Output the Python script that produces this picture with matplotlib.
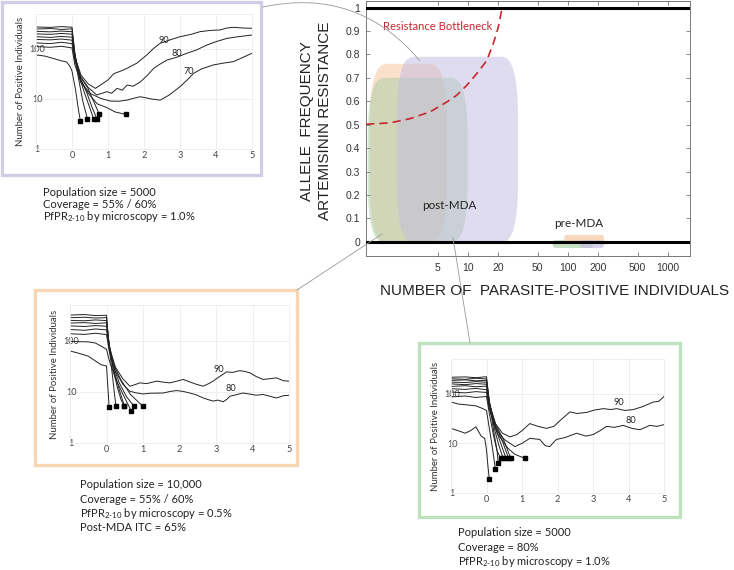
import matplotlib.pyplot as plt
from matplotlib.patches import FancyBboxPatch, Rectangle, ConnectionPatch
from matplotlib.ticker import NullLocator

plt.rcParams['font.family'] = ['Lato', 'DejaVu Sans']
plt.rcParams['mathtext.fontset'] = 'custom'
plt.rcParams['mathtext.rm'] = 'Lato'

W, H = 734, 570

# ---- main panel data ----
# envelopes: orange = pop 10,000, green = coverage 80%, purple = pop 5000
env_colors = ['#F8C39A', '#A6CEA4', '#C3BBE0']
post_xmin = [1.05, 1.0, 1.96]
post_xmax = [6.2, 10.0, 31.8]
post_ymax = [0.76, 0.70, 0.79]
pre_xmin = [92, 71, 133]
pre_xmax = [231, 179, 231]
pre_ylo = [-0.004, -0.026, -0.026]
pre_yhi = [0.03, 0.008, 0.008]

bneck_x = [0.96, 1.67, 2.65, 4.2, 6.17, 7.76, 9.77, 12.3, 15.5, 18.0, 20.2, 22.1]
bneck_y = [0.502, 0.508, 0.526, 0.555, 0.597, 0.626, 0.668, 0.718, 0.774, 0.846, 0.916, 1.0]

main_xticks = [5, 10, 20, 50, 100, 200, 500, 1000]
main_yticks = [0, 0.1, 0.2, 0.3, 0.4, 0.5, 0.6, 0.7, 0.8, 0.9, 1]
main_ylabels = ['0', '0.1', '0.2', '0.3', '0.4', '0.5', '0.6', '0.7', '0.8', '0.9', '1']

# ---- inset data: (x, y) per simulation line ----
purple_lines = [
    ([-1, -0.6, -0.3, 0, 0.07, 0.18, 0.3, 0.43], [275, 270, 280, 272, 85, 26, 9, 4.0]),
    ([-1, -0.6, -0.3, 0, 0.08, 0.2, 0.35, 0.5, 0.6], [250, 256, 246, 252, 82, 28, 13, 6.5, 4.0]),
    ([-1, -0.6, -0.3, 0, 0.08, 0.2, 0.4, 0.55, 0.69], [225, 220, 228, 222, 78, 28, 14, 7, 4.0]),
    ([-1, -0.6, -0.3, 0, 0.08, 0.22, 0.45, 0.6, 0.76], [200, 196, 204, 198, 72, 29, 16, 9, 4.9]),
    ([-1, -0.6, -0.3, 0, 0.08, 0.25, 0.45, 0.65, 0.79, 1.0, 1.16, 1.35, 1.53, 1.8, 2.08,
      2.25, 2.45, 2.7, 3.0, 3.3, 3.56, 3.85, 4.12, 4.3, 4.49, 4.75, 5.0],
     [176, 170, 178, 172, 70, 30, 20, 16.3, 19, 24, 32, 36, 41, 52, 76,
      100, 130, 150, 176, 195, 222, 235, 240, 262, 271, 262, 259]),
    ([-1, -0.6, -0.3, 0, 0.08, 0.25, 0.45, 0.69, 0.97, 1.1, 1.25, 1.4, 1.53, 1.7, 1.9,
      2.1, 2.27, 2.45, 2.64, 2.9, 3.19, 3.45, 3.75, 4.0, 4.31, 4.6, 5.0],
     [155, 152, 158, 150, 62, 27, 17, 12, 14, 13, 16.3, 15, 19, 18, 22,
      30, 41, 50, 60, 68, 82, 95, 120, 140, 163, 175, 190]),
    ([-1, -0.6, -0.3, 0, 0.08, 0.25, 0.45, 0.7, 0.95, 1.2, 1.5],
     [132, 128, 136, 128, 58, 24, 13, 8, 6.8, 5.5, 4.9]),
    ([-1, -0.6, -0.3, 0, 0.08, 0.25, 0.5, 0.79, 1.06, 1.3, 1.53, 1.75, 1.9, 2.2, 2.45,
      2.7, 3.0, 3.2, 3.38, 3.6, 3.93, 4.2, 4.49, 4.75, 5.0],
     [112, 108, 113, 105, 48, 21, 13, 10.3, 9.1, 9.0, 9.5, 10.5, 11.1, 10, 9.5,
      12, 17.6, 24, 32.6, 40, 48, 52, 56, 68, 82]),
    ([-1, -0.75, -0.5, -0.3, -0.15, -0.05, 0, 0.1, 0.18, 0.23],
     [76, 72, 64, 58, 55, 44, 36, 15, 6, 3.7]),
]
purple_tags = [('90', 2.55, 150), ('80', 2.92, 82), ('70', 3.24, 35)]

orange_lines = [
    ([-1, -0.6, -0.3, 0, 0.06, 0.15, 0.22, 0.26], [318, 325, 310, 315, 90, 25, 9, 5.2]),
    ([-1, -0.6, -0.3, 0, 0.07, 0.18, 0.3, 0.4, 0.49], [282, 288, 278, 283, 85, 28, 12, 7, 5.2]),
    ([-1, -0.6, -0.3, 0, 0.07, 0.2, 0.35, 0.55, 0.76], [250, 246, 255, 248, 82, 30, 15, 8, 5.2]),
    ([-1, -0.6, -0.3, 0, 0.08, 0.22, 0.4, 0.65, 1.0], [222, 226, 218, 224, 80, 31, 17, 9, 5.2]),
    ([-1, -0.6, -0.3, 0, 0.08, 0.2, 0.35, 0.45, 0.49], [195, 190, 198, 192, 75, 27, 11, 6.5, 5.2]),
    ([-1, -0.6, -0.3, 0, 0.08, 0.25, 0.45, 0.64, 0.8, 0.91, 1.1, 1.37, 1.55, 1.73, 1.9,
      2.1, 2.3, 2.47, 2.65, 2.8, 2.92, 3.1, 3.29, 3.45, 3.65, 3.8, 3.93, 4.1, 4.29, 4.45,
      4.66, 4.85, 5.0],
     [166, 160, 170, 163, 70, 30, 18, 12.9, 14, 15, 14.5, 16.2, 15.5, 15, 16,
      17.5, 15.5, 14, 12.9, 14.5, 16.2, 20, 24.6, 24, 26, 25, 23.5, 20, 17.5, 18,
      18.8, 16.5, 16.2]),
    ([-1, -0.6, -0.3, 0, 0.08, 0.25, 0.45, 0.64, 0.8, 1.0, 1.2, 1.55, 1.75, 1.92, 2.1,
      2.28, 2.45, 2.65, 2.8, 2.92, 3.05, 3.2, 3.3, 3.38, 3.55, 3.74, 3.95, 4.1, 4.29, 4.45,
      4.66, 4.85, 5.0],
     [137, 133, 140, 132, 60, 25, 14, 10.3, 9.6, 9.1, 9.4, 9.5, 10.2, 10.6, 10.2,
      9.5, 8.8, 7.6, 7.0, 6.6, 6.9, 6.4, 7.2, 8.2, 8.8, 9.5, 9.0, 8.6, 8.9, 8.3,
      7.6, 8.4, 8.6]),
    ([-1, -0.8, -0.5, -0.3, -0.1, 0, 0.08, 0.25, 0.45, 0.6, 0.68],
     [98, 96, 95, 90, 75, 68, 40, 18, 9, 5.5, 4.2]),
    ([-1, -0.8, -0.5, -0.3, -0.15, 0, 0.03, 0.06, 0.07],
     [63, 58, 50, 40, 34, 32, 15, 7, 5.0]),
]
orange_tags = [('90', 3.09, 27), ('80', 3.4, 11.6)]

green_lines = [
    ([-1, -0.8, -0.6, -0.45, -0.3, -0.15, -0.05, 0, 0.04, 0.08],
     [20, 18, 16, 18, 21.5, 14, 12.6, 7.4, 3.5, 1.9]),
    ([-1, -0.8, -0.6, -0.3, -0.1, 0, 0.08, 0.18, 0.25], [68, 62, 60, 57, 50, 46, 20, 7, 3.0]),
    ([-1, -0.6, -0.3, 0, 0.07, 0.2, 0.3, 0.33], [215, 218, 210, 220, 75, 18, 7, 4.0]),
    ([-1, -0.6, -0.3, 0, 0.08, 0.22, 0.35, 0.47], [200, 195, 205, 198, 70, 20, 9, 5]),
    ([-1, -0.6, -0.3, 0, 0.08, 0.24, 0.4, 0.55], [185, 190, 182, 186, 68, 22, 10, 5]),
    ([-1, -0.6, -0.3, 0, 0.08, 0.25, 0.45, 0.62], [171, 168, 175, 170, 66, 23, 11, 5]),
    ([-1, -0.6, -0.3, 0, 0.08, 0.26, 0.5, 0.68], [140, 145, 138, 142, 62, 24, 11, 5]),
    ([-1, -0.6, -0.3, 0, 0.08, 0.3, 0.6, 0.8, 1.08], [108, 104, 110, 106, 50, 16, 8, 6, 5]),
    ([-1, -0.6, -0.3, 0, 0.08, 0.25, 0.45, 0.66, 0.85, 1.0, 1.22, 1.45, 1.69, 1.9, 2.1,
      2.35, 2.55, 2.82, 3.05, 3.29, 3.5, 3.67, 3.9, 4.14, 4.4, 4.7, 4.85, 5.0],
     [158, 152, 160, 155, 60, 25, 16, 13.5, 15, 18, 25, 22, 20, 22, 30,
      43, 40, 42, 47, 50, 48, 50, 46, 48, 55, 68, 70, 88]),
    ([-1, -0.6, -0.3, 0, 0.08, 0.25, 0.5, 0.8, 1.0, 1.22, 1.5, 1.65, 1.78, 1.97, 2.2,
      2.54, 2.8, 3.0, 3.2, 3.38, 3.6, 3.85, 4.1, 4.32, 4.6, 4.8, 5.0],
     [126, 122, 128, 120, 50, 20, 12, 8.6, 10, 12.6, 12, 9, 8.6, 12, 13,
      16, 14, 15, 18, 22, 21, 23, 20, 18.8, 23, 22, 23.8]),
    ([-1, -0.6, -0.3, 0, 0.08, 0.2, 0.3, 0.4], [86, 90, 84, 88, 40, 14, 7, 5]),
]
green_tags = [('90', 3.72, 68), ('80', 4.07, 29)]

inset_xticks = [-1, 0, 1, 2, 3, 4, 5]
inset_xlabels = ['', '0', '1', '2', '3', '4', '5']
inset_yticks = [1, 10, 100]
inset_ylabels = ['1', '10', '100']

purple_text = ['Population size = 5000', 'Coverage = 55% / 60%',
               r'PfPR$_{2\text{-}10}$ by microscopy = 1.0%']
orange_text = ['Population size = 10,000', 'Coverage = 55% / 60%',
               r'PfPR$_{2\text{-}10}$ by microscopy = 0.5%', 'Post-MDA ITC = 65%']
green_text = ['Population size = 5000', 'Coverage = 80%',
              r'PfPR$_{2\text{-}10}$ by microscopy = 1.0%']


def fig_rect(l, t, r, b):
    return [l / W, 1 - b / H, (r - l) / W, (b - t) / H]


fig = plt.figure(figsize=(W / 100, H / 100), dpi=100)

# ---------------- main panel ----------------
ax = fig.add_axes(fig_rect(366, 0.5, 690, 256))
ax.set_xscale('log')
ax.set_xlim(0.96, 1670)
ax.set_ylim(-0.06, 1.03)
ax.set_xticks(main_xticks)
ax.set_xticklabels([str(v) for v in main_xticks])
ax.xaxis.set_minor_locator(NullLocator())
ax.set_yticks(main_yticks)
ax.set_yticklabels(main_ylabels)
ax.tick_params(direction='in', length=3, width=0.6, color='#777', labelsize=7.5,
               labelcolor='#333', top=True, right=True, pad=5)
ax.tick_params(axis='y', pad=4)
for lab in ax.get_xticklabels() + ax.get_yticklabels():
    lab.set_family('Liberation Sans')
for s in ax.spines.values():
    s.set_color('#777')
    s.set_linewidth(0.7)

ax_w = 324.0
ax_h = 255.5
to_axes = ax.transData + ax.transAxes.inverted()


def blob(x0, x1, y0, y1, rx, ry, color, alpha):
    (a0, b0), (a1, b1) = to_axes.transform([(x0, y0), (x1, y1)])
    rxf = rx / ax_w
    ryf = ry / ax_h
    p = FancyBboxPatch((a0, b0), a1 - a0, b1 - b0,
                       boxstyle='round,pad=0,rounding_size=%f' % rxf,
                       mutation_aspect=ryf / rxf, transform=ax.transAxes,
                       facecolor=color, edgecolor='none', alpha=alpha, zorder=1)
    ax.add_patch(p)


for i in range(3):
    blob(post_xmin[i], post_xmax[i], -0.003, post_ymax[i], 16, 60, env_colors[i], 0.5)
for i in [1, 0, 2]:
    blob(pre_xmin[i], pre_xmax[i], pre_ylo[i], pre_yhi[i], 3, 3, env_colors[i], 0.65)

ax.axhline(0, color='black', lw=2.2, zorder=3)
ax.axhline(1, color='black', lw=2.2, zorder=3)
ax.plot(bneck_x, bneck_y, color='#C8262E', lw=1.2, dashes=(5, 3), zorder=4)

ax.text(1.42, 0.92, 'Resistance Bottleneck', color='#C8262E', fontsize=8.1,
        ha='left', va='center')
ax.text(6.6, 0.155, 'post-MDA', color='#222', fontsize=8.4, ha='center', va='center')
ax.text(130, 0.08, 'pre-MDA', color='#222', fontsize=8.4, ha='center', va='center')

fig.text(307 / W, 1 - 121 / H, 'ALLELE  FREQUENCY', rotation=90, ha='center', va='center',
         fontsize=11, family='Liberation Sans', color='#222')
fig.text(325 / W, 1 - 121 / H, 'ARTEMISININ RESISTANCE', rotation=90, ha='center',
         va='center', fontsize=11, family='Liberation Sans', color='#222')
fig.text(555 / W, 1 - 291 / H, 'NUMBER OF  PARASITE-POSITIVE INDIVIDUALS', ha='center',
         va='center', fontsize=11, family='Liberation Sans', color='#222')


# ---------------- insets ----------------
def inset(frame, plot, border, lines, tags, text, tx, ty0, dy):
    l, t, r, b = frame
    fig.patches.append(Rectangle((l / W, 1 - b / H), (r - l) / W, (b - t) / H,
                                 transform=fig.transFigure, fill=False,
                                 edgecolor=border, lw=2.4, zorder=0))
    a = fig.add_axes(fig_rect(*plot))
    a.set_yscale('log')
    a.set_xlim(-1, 5)
    a.set_ylim(1, 500)
    a.set_xticks(inset_xticks)
    a.set_xticklabels(inset_xlabels)
    a.set_yticks(inset_yticks)
    a.set_yticklabels(inset_ylabels)
    a.yaxis.set_minor_locator(NullLocator())
    a.tick_params(length=0, labelsize=6.6, labelcolor='#444', pad=1.5)
    a.tick_params(axis='y', pad=-1)
    for lab in a.get_yticklabels():
        lab.set_horizontalalignment('center')
    a.grid(color='#ececec', lw=0.6)
    for s in a.spines.values():
        s.set_color('#ececec')
        s.set_linewidth(0.6)
    a.set_ylabel('Number of Positive Individuals', fontsize=6.9, color='#333', labelpad=3)
    for xs, ys in lines:
        a.plot(xs, ys, color='#222', lw=0.7)
        if xs[-1] < 5:
            a.plot(xs[-1], ys[-1], 's', color='black', ms=3)
    for s, x, y in tags:
        a.text(x, y, s, fontsize=6.6, color='#222', ha='center', va='center')
    for k, line in enumerate(text):
        fig.text(tx / W, 1 - (ty0 + k * dy) / H, line, fontsize=8, color='#222',
                 ha='left', va='center')
    return a


inset((2, 2, 261, 175), (36, 14, 252, 149), '#D2CCE6', purple_lines, purple_tags,
      purple_text, 43, 192.5, 12.2)
inset((35, 290, 297, 465), (70, 305, 289, 443), '#F8D6B2', orange_lines, orange_tags,
      orange_text, 80, 485, 14.3)
inset((419, 343, 680, 517), (451, 359, 664, 493), '#BEE2BE', green_lines, green_tags,
      green_text, 458, 532.7, 14.6)

# connectors from insets to the main panel
fig.add_artist(ConnectionPatch(xyA=(263, H - 7), coordsA='figure pixels',
                               xyB=(3.3, 0.774), coordsB=ax.transData,
                               connectionstyle='arc3,rad=-0.3', color='#999', lw=0.6))
fig.add_artist(ConnectionPatch(xyA=(297, H - 290), coordsA='figure pixels',
                               xyB=(1.39, 0.034), coordsB=ax.transData,
                               color='#999', lw=0.6))
fig.add_artist(ConnectionPatch(xyA=(470, H - 343), coordsA='figure pixels',
                               xyB=(7.1, 0.02), coordsB=ax.transData,
                               color='#999', lw=0.6))

fig.savefig('out.png', dpi=100)
